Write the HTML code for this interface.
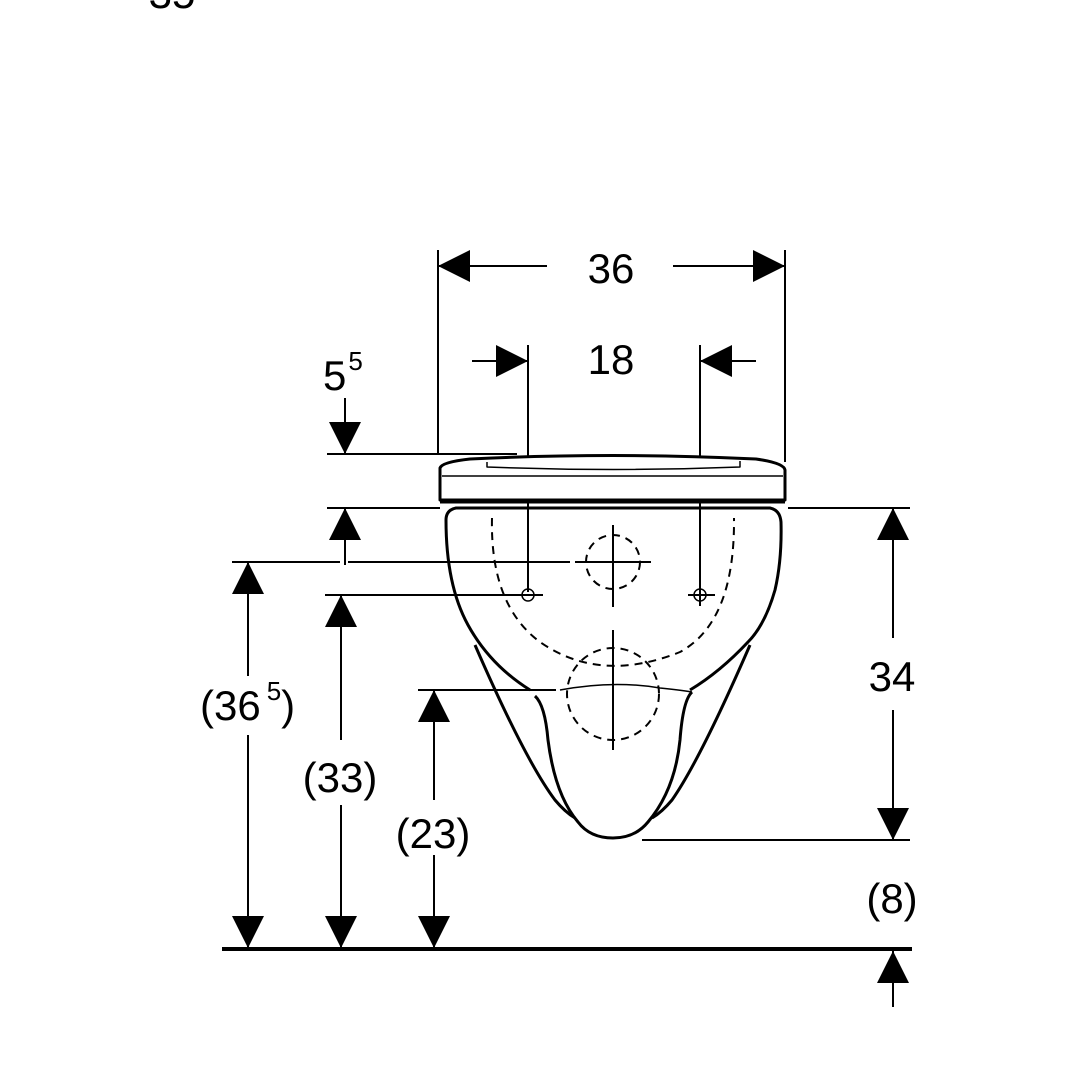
<!DOCTYPE html>
<html><head><style>
html,body{margin:0;padding:0;background:#fff;}
svg{display:block;}
text{font-family:"Liberation Sans",sans-serif;fill:#000;}
</style></head><body>
<svg width="1080" height="1080" viewBox="0 0 1080 1080" xmlns="http://www.w3.org/2000/svg">
<defs>
<path id="ad" d="M-16,-32 L16,-32 L0,0 Z" fill="#000"/>
</defs>
<text x="172" y="8" font-size="42" text-anchor="middle">35</text>

<g stroke="#000" stroke-width="2" fill="none">
<line x1="438" y1="250" x2="438" y2="455"/>
<line x1="785" y1="250" x2="785" y2="462"/>
<line x1="438" y1="266" x2="547" y2="266"/>
<line x1="673" y1="266" x2="785" y2="266"/>
<line x1="528" y1="345" x2="528" y2="592"/>
<line x1="700" y1="345" x2="700" y2="606"/>
<line x1="472" y1="361" x2="528" y2="361"/>
<line x1="700" y1="361" x2="756" y2="361"/>
<line x1="345" y1="398" x2="345" y2="454"/>
<line x1="327" y1="454" x2="517" y2="454"/>
<line x1="327" y1="508" x2="440" y2="508"/>
<line x1="345" y1="508" x2="345" y2="565"/>
<line x1="232" y1="562" x2="340" y2="562"/>
<line x1="348" y1="562" x2="570" y2="562"/>
<line x1="325" y1="595" x2="540" y2="595"/>
<line x1="418" y1="690" x2="556" y2="690"/>
<line x1="248" y1="562" x2="248" y2="676"/>
<line x1="248" y1="735" x2="248" y2="948"/>
<line x1="341" y1="595" x2="341" y2="740"/>
<line x1="341" y1="805" x2="341" y2="948"/>
<line x1="434" y1="690" x2="434" y2="800"/>
<line x1="434" y1="855" x2="434" y2="948"/>
<line x1="788" y1="508" x2="910" y2="508"/>
<line x1="642" y1="840" x2="910" y2="840"/>
<line x1="893" y1="508" x2="893" y2="638"/>
<line x1="893" y1="710" x2="893" y2="840"/>
<line x1="893" y1="950" x2="893" y2="1007"/>
</g>
<line x1="222" y1="949" x2="912" y2="949" stroke="#000" stroke-width="4"/>

<use href="#ad" transform="translate(438,266) rotate(90)"/>
<use href="#ad" transform="translate(785,266) rotate(-90)"/>
<use href="#ad" transform="translate(528,361) rotate(-90)"/>
<use href="#ad" transform="translate(700,361) rotate(90)"/>
<use href="#ad" transform="translate(345,454)"/>
<use href="#ad" transform="translate(345,508) rotate(180)"/>
<use href="#ad" transform="translate(248,562) rotate(180)"/>
<use href="#ad" transform="translate(248,948)"/>
<use href="#ad" transform="translate(341,595) rotate(180)"/>
<use href="#ad" transform="translate(341,948)"/>
<use href="#ad" transform="translate(434,690) rotate(180)"/>
<use href="#ad" transform="translate(434,948)"/>
<use href="#ad" transform="translate(893,508) rotate(180)"/>
<use href="#ad" transform="translate(893,840)"/>
<use href="#ad" transform="translate(893,951) rotate(180)"/>

<text x="611" y="283" font-size="42" text-anchor="middle">36</text>
<text x="611" y="374" font-size="42" text-anchor="middle">18</text>
<text x="323" y="390" font-size="42">5<tspan font-size="26" dx="2" dy="-20">5</tspan></text>
<text x="200" y="720" font-size="42">(36<tspan font-size="26" dx="6" dy="-20">5</tspan><tspan dy="20">)</tspan></text>
<text x="340" y="792" font-size="42" text-anchor="middle">(33)</text>
<text x="433" y="848" font-size="42" text-anchor="middle">(23)</text>
<text x="892" y="691" font-size="42" text-anchor="middle">34</text>
<text x="892" y="913" font-size="42" text-anchor="middle">(8)</text>

<g stroke="#000" stroke-width="3" fill="none" stroke-linejoin="round">
<path d="M440,496 L440,468 Q442,462 470,459 Q613,452 756,459 Q784,463 785,470 L785,500 L440,500 Z" fill="#fff"/>
<path d="M487,462 L487,467 Q613,472 740,467 L740,461" stroke-width="1.5"/>
<line x1="442" y1="476" x2="783" y2="476" stroke-width="1.5"/>
<line x1="440" y1="502" x2="785" y2="502" stroke-width="3"/>
<path d="M446,520 Q446,510 456,508 L770,508 Q780,510 781,522 Q782,560 775,590 Q765,625 748,642 Q720,672 690,690"/>
<path d="M446,520 Q446,585 468,625 Q490,665 530,690"/>
<path d="M475,645 Q525,760 555,800 Q565,812 575,818"/>
<path d="M750,645 Q700,760 672,800 Q662,812 652,818"/>
<path d="M535,696 Q545,705 548,740 Q555,795 578,822 Q590,838 613,838 Q635,838 648,822 Q675,790 680,740 Q683,700 692,692"/>
<path d="M560,690 Q613,680 660,688 Q680,690 692,692" stroke-width="1.5"/>
</g>
<g stroke="#000" stroke-width="2" fill="none" stroke-dasharray="8,6">
<path d="M492,518 Q490,605 540,642 Q600,684 680,652 Q735,622 734,518"/>
<circle cx="613" cy="562" r="27"/>
<circle cx="613" cy="694" r="46"/>
</g>
<g stroke="#000" stroke-width="2" fill="none">
<line x1="613" y1="525" x2="613" y2="607"/>
<line x1="575" y1="562" x2="651" y2="562"/>
<line x1="613" y1="630" x2="613" y2="750"/>
<line x1="517" y1="595" x2="543" y2="595"/>
<line x1="688" y1="595" x2="715" y2="595"/>
<circle cx="528" cy="595" r="6" stroke-width="1.5"/>
<circle cx="700" cy="595" r="6" stroke-width="1.5"/>
</g>
</svg>
</body></html>
